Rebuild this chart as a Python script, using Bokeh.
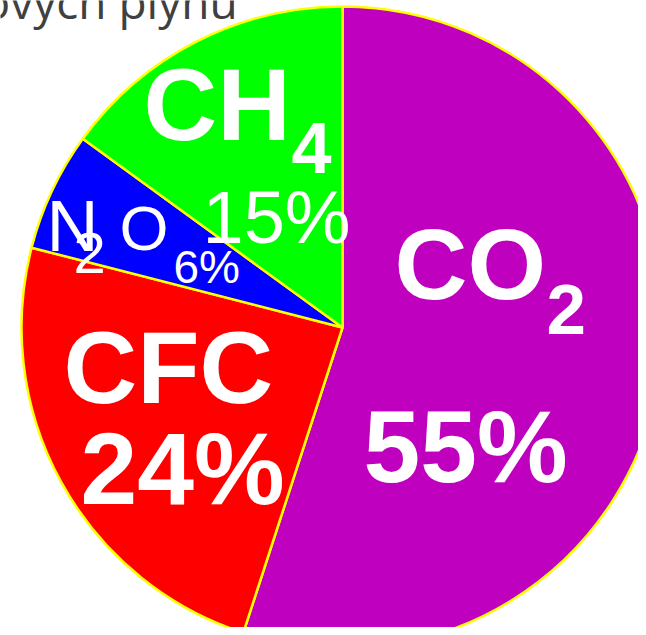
import math
from bokeh.plotting import figure
from bokeh.models import Range1d, ColumnDataSource
from bokeh.core.properties import value
from bokeh.embed import file_html
from bokeh.resources import INLINE

# ---- data ----
gases = ["CO2", "CFC", "N2O", "CH4"]
shares = [55, 24, 6, 15]
colors = ["#BF00BF", "#FF0000", "#0000FF", "#00FF00"]
title_text = "ových plynů"

# ---- geometry (pixels; y negated so data units == pixels) ----
CX, CY, R = 342, 327, 321
W, H = 638, 627
BASE_SHIFT = 0.34  # observed offset of the rendered baseline, as fraction of font size

total = float(sum(shares))
starts, ends = [], []
acc = 0.0
for s in shares:
    starts.append(math.pi / 2 - 2 * math.pi * acc / total)
    acc += s
    ends.append(math.pi / 2 - 2 * math.pi * acc / total)

p = figure(width=W, height=H, output_backend="svg", toolbar_location=None,
           x_range=Range1d(0, W), y_range=Range1d(-H, 0), min_border=0)
p.axis.visible = False
p.grid.visible = False
p.outline_line_alpha = 0

src = ColumnDataSource(dict(gas=gases, share=shares, color=colors,
                            start=starts, end=ends))
p.wedge(x=CX, y=-CY, radius=R, start_angle="start", end_angle="end",
        direction="clock", fill_color="color", line_color="#FFFF00",
        line_width=2.5, source=src)

# labels (sizes avoid "N00px", which the SVG font parser rejects)
lab_txt = ["CO", "2", f"{shares[0]}%", "CFC", f"{shares[1]}%", "CH", "4",
           f"{shares[3]}%", "N", "2", "O", f"{shares[2]}%"]
lab_x = [394, 546, 363, 63, 80, 143, 291, 202, 46, 73, 119, 173]
lab_y = [298, 333, 481, 402, 503, 139, 172, 242, 250, 272, 249, 282]
lab_px = [101, 71, 102, 102, 102, 102, 72, 74, 72, 58, 63, 46]
lab_style = ["bold", "bold", "bold", "bold", "bold", "bold", "bold",
             "normal", "normal", "normal", "normal", "normal"]

lsrc = ColumnDataSource(dict(
    x=lab_x,
    y=[-(yy - BASE_SHIFT * sz) for yy, sz in zip(lab_y, lab_px)],
    text=lab_txt,
    size=[f"{sz}px" for sz in lab_px],
    style=lab_style))
p.text(x="x", y="y", text="text", text_font_size="size",
       text_font_style="style", text_color="#FFFFFF",
       text_font=value("Liberation Sans"), text_baseline="alphabetic",
       source=lsrc)

p.text(x=[-18], y=[-(16 - BASE_SHIFT * 46)], text=[title_text],
       text_color="#404040", text_font=value("Open Sans"),
       text_font_size="46px", text_baseline="alphabetic")

open("out.html", "w").write(file_html(p, INLINE))
